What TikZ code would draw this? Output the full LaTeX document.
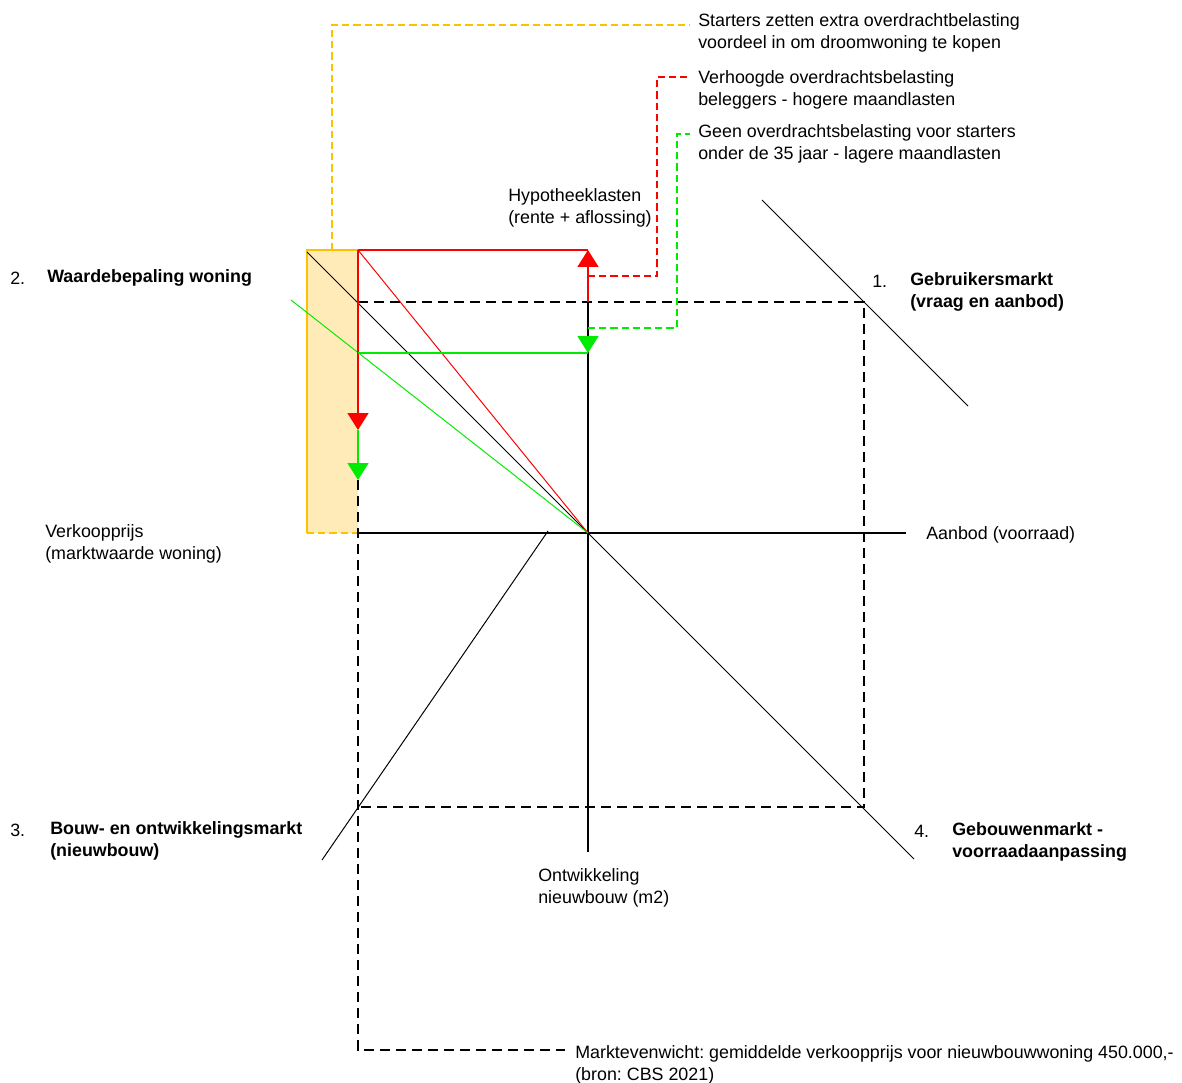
\documentclass[tikz,border=0pt]{standalone}
\usepackage{fontspec}
\setmainfont{Liberation Sans}
\usetikzlibrary{arrows.meta}
\definecolor{kaderoranje}{RGB}{255,192,0}
\definecolor{vlakoranje}{RGB}{255,235,184}
\definecolor{lijnrood}{RGB}{255,0,0}
\definecolor{lijngroen}{RGB}{0,235,0}
\frenchspacing
\tikzset{
  label/.style={anchor=west,inner sep=0,align=left},
  as/.style={line width=1pt,black},
  curve/.style={line width=0.7pt,black},
  hulp/.style={line width=0.9pt,black,dash pattern=on 2.6mm off 1.4mm},
  leader/.style={line width=0.8pt,dash pattern=on 1.8mm off 1mm},
  pijl/.style={line width=1pt,-{Triangle[width=5.2mm,length=4.2mm]}},
}
\begin{document}
\begin{tikzpicture}[x=0.25mm,y=-0.25mm,font=\fontsize{12.7}{15.6}\selectfont]
    \useasboundingbox (0,0) rectangle (1182,1083);
    \pgfmathsetmacro{\ox}{588}
    \pgfmathsetmacro{\oy}{533}
    \coordinate (O) at (\ox,\oy);
    \coordinate (p) at (358,302);
    \coordinate (q) at (864,302);
    \coordinate (r) at (864,807);
    \coordinate (s) at (358,807);
    \coordinate (hoog) at (358,250);
    \coordinate (laag) at (358,353);
    % prijsband
    \fill[vlakoranje] (307,250) rectangle (358,533);
    \draw[kaderoranje,line width=1pt] (hoog) -- (307,250) -- (307,533);
    \draw[kaderoranje,line width=1pt,dash pattern=on 1.8mm off 1mm] (307,533) -- (358,533);
    % assen
    \draw[as] (358,\oy) -- (906,\oy);
    \draw[as] (\ox,302) -- (\ox,852);
    % markten
    \draw[curve] (307,252) -- (O) -- (914,859);
    \draw[curve] (762,200) -- (968,406);
    \draw[curve] (322,860) -- (548,531);
    \draw[lijnrood,line width=0.7pt] (hoog) -- (O);
    \draw[lijngroen,line width=0.7pt] (291,300) -- (O);
    % evenwicht
    \draw[hulp] (p) -- (q) -- (r) -- (s);
    \draw[hulp] (358,480) -- (358,1050) -- (565,1050);
    % verschuivingen
    \draw[lijnrood,line width=1pt] (hoog) -- (\ox,250);
    \draw[lijnrood,pijl] (\ox,302) -- (\ox,250);
    \draw[lijnrood,pijl] (hoog) -- (358,430);
    \draw[lijngroen,line width=1pt] (laag) -- (\ox,353);
    \draw[lijngroen,pijl] (\ox,340) -- (\ox,353);
    \draw[lijngroen,pijl] (358,430) -- (358,480);
    % teksten
    \node[label] (starters) at (698,33) {Starters zetten extra overdrachtbelasting\\voordeel in om droomwoning te kopen};
    \node[label] (beleggers) at (698,89.5) {Verhoogde overdrachtsbelasting\\beleggers - hogere maandlasten};
    \node[label] (jongeren) at (698,144) {Geen overdrachtsbelasting voor starters\\onder de 35 jaar - lagere maandlasten};
    \node[label] (lasten) at (508,208) {Hypotheeklasten\\(rente + aflossing)};
    \node[label] (nr2) at (10,278) {2.};
    \node[label,font=\fontsize{12.7}{15.6}\selectfont\bfseries] (waarde) at (47,278) {Waardebepaling woning};
    \node[label] (nr1) at (872,281) {1.};
    \node[label,font=\fontsize{12.7}{15.6}\selectfont\bfseries] (gebruik) at (910,292) {Gebruikersmarkt\\(vraag en aanbod)};
    \node[label] (prijs) at (45,544) {Verkoopprijs\\(marktwaarde woning)};
    \node[label] (aanbod) at (926,535) {Aanbod (voorraad)};
    \node[label] (nr3) at (10,830) {3.};
    \node[label,font=\fontsize{12.7}{15.6}\selectfont\bfseries] (bouw) at (50,841) {Bouw- en ontwikkelingsmarkt\\(nieuwbouw)};
    \node[label] (nr4) at (914,831) {4.};
    \node[label,font=\fontsize{12.7}{15.6}\selectfont\bfseries] (gebouw) at (952,842) {Gebouwenmarkt -\\voorraadaanpassing};
    \node[label] (ontw) at (538,888) {Ontwikkeling\\nieuwbouw (m2)};
    \node[label] (even) at (575,1065) {Marktevenwicht: gemiddelde verkoopprijs voor nieuwbouwwoning 450.000,-\\(bron: CBS 2021)};
    % verwijzingen
    \coordinate (eindoranje) at (690,25);
    \coordinate (eindrood) at (690,77);
    \coordinate (eindgroen) at (690,134);
    \draw[leader,kaderoranje] (332,250) |- (eindoranje);
    \draw[leader,lijnrood] (\ox,276) -| (657,77) -- (eindrood);
    \draw[leader,lijngroen] (\ox,328) -| (677,134) -- (eindgroen);
\end{tikzpicture}
\end{document}
